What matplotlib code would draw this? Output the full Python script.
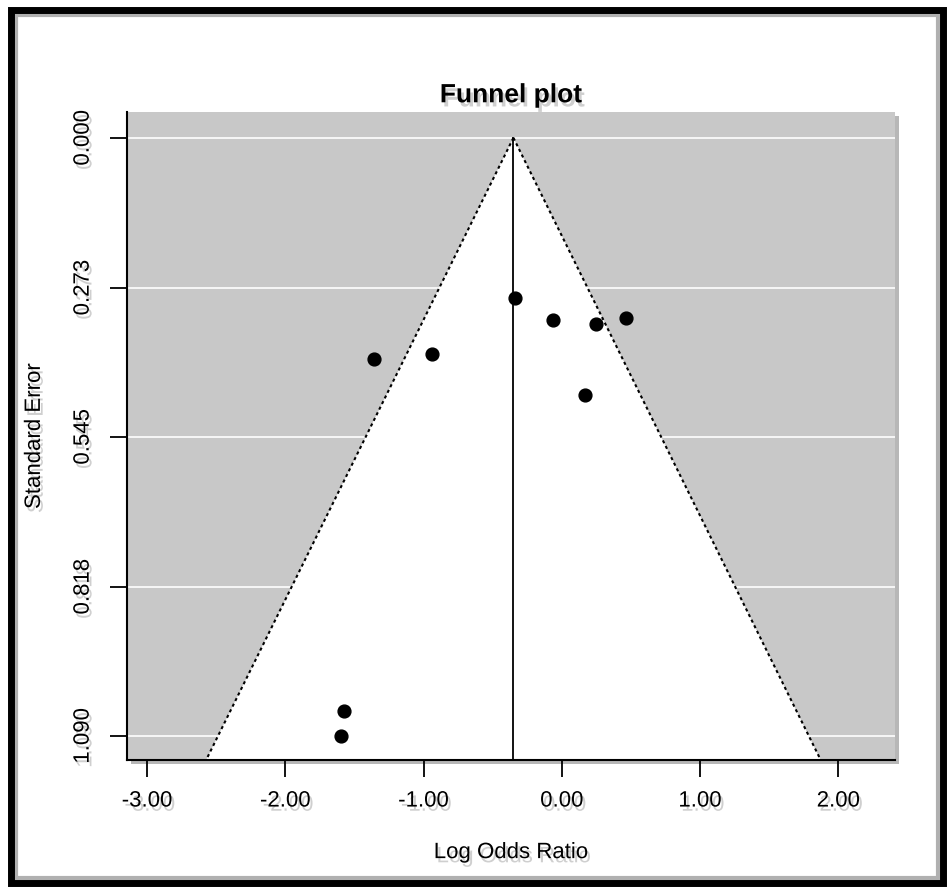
import numpy as np
import matplotlib
matplotlib.use('Agg')
import matplotlib.pyplot as plt
import matplotlib.patheffects as pe
from matplotlib.patches import Rectangle, Polygon

# study estimates (log odds ratio) and standard errors
log_or = [-0.34, -0.065, 0.246, 0.463, 0.166, -1.36, -0.94, -1.577, -1.60]
std_err = [0.292, 0.332, 0.339, 0.328, 0.468, 0.403, 0.394, 1.044, 1.090]
pooled = -0.35
x_ticks = [-3, -2, -1, 0, 1, 2]
y_ticks = [0.000, 0.273, 0.545, 0.818, 1.090]

plt.rcParams['font.family'] = ['Liberation Sans', 'DejaVu Sans']

fig = plt.figure(figsize=(9.53, 8.91), dpi=100)
ax = fig.add_axes([127/953, 131/891, 768/953, 648/891])

shadow = [pe.withSimplePatchShadow(offset=(3, -3), shadow_rgbFace='#888888', alpha=0.6)]
txt_shadow = [pe.withSimplePatchShadow(offset=(2, -3), shadow_rgbFace='#b0b0b0', alpha=0.6)]

ax.set_facecolor('#c8c8c8')
ax.patch.set_path_effects(shadow)
ax.set_xlim(-3.145, 2.41)
ax.set_ylim(1.134, -0.047)

for y in y_ticks:
    ax.axhline(y, color='white', lw=1.2, zorder=1)

ymax = 1.134
funnel = Polygon([[pooled, 0], [pooled - 1.96 * ymax, ymax], [pooled + 1.96 * ymax, ymax]],
                 closed=True, facecolor='white', edgecolor='none', zorder=2)
ax.add_patch(funnel)
ax.plot([pooled, pooled - 1.96 * ymax], [0, ymax], color='black', ls=(0, (1.5, 1.5)), lw=1.5, zorder=3)
ax.plot([pooled, pooled + 1.96 * ymax], [0, ymax], color='black', ls=(0, (1.5, 1.5)), lw=1.5, zorder=3)
ax.plot([pooled, pooled], [0, ymax], color='black', lw=1.3, zorder=3)

ax.scatter(log_or, std_err, s=85, color='black', zorder=4)

ax.spines['top'].set_visible(False)
ax.spines['right'].set_visible(False)
ax.spines['left'].set_linewidth(1.5)
ax.spines['bottom'].set_linewidth(1.5)

ax.set_xticks(x_ticks)
ax.set_xticklabels(['%.2f' % v for v in x_ticks])
ax.set_yticks(y_ticks)
ax.set_yticklabels(['%.3f' % v for v in y_ticks], rotation=90, va='center')
ax.tick_params(direction='out', length=12, width=1.3, labelsize=16, pad=10)
ax.tick_params(axis='y', pad=12)
for lab in ax.get_xticklabels() + ax.get_yticklabels():
    lab.set_path_effects(txt_shadow)

ax.set_xlabel('Log Odds Ratio', fontsize=16, labelpad=22, path_effects=txt_shadow)
ax.set_ylabel('Standard Error', fontsize=16, labelpad=20, path_effects=txt_shadow)
ax.set_title('Funnel plot', fontsize=19, fontweight='bold', pad=7, path_effects=txt_shadow)

# heavy outer frame with a soft grey line just inside it
inner = Rectangle((16/953, 13/891), 922/953, 863/891, transform=fig.transFigure,
                  fill=False, edgecolor='#b0b0b0', lw=3)
frame = Rectangle((11/953, 8/891), 932/953, 873/891, transform=fig.transFigure,
                  fill=False, edgecolor='black', lw=5)
fig.patches.extend([inner, frame])

fig.savefig('out.png', dpi=100)
